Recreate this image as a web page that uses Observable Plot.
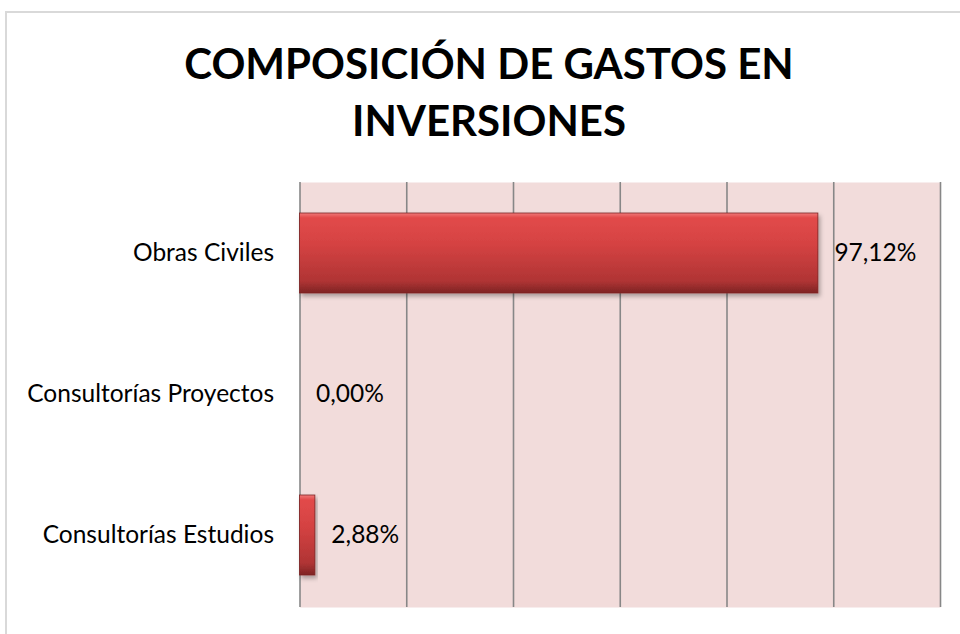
<!DOCTYPE html>
<html>
<head>
<meta charset="utf-8">
<script src="https://cdn.jsdelivr.net/npm/d3@7"></script>
<script src="https://cdn.jsdelivr.net/npm/@observablehq/plot@0.6"></script>
<style>
  html, body { margin: 0; padding: 0; background: #fff; overflow: hidden; }
  #wrap { position: relative; width: 960px; height: 634px; overflow: hidden; font-family: Lato, "Open Sans", sans-serif; }
  #frame { position: absolute; left: 5px; top: 11px; width: 1000px; height: 700px; border: 2px solid #d9d9d9; box-sizing: border-box; }
  #title { position: absolute; left: 9px; top: 35px; width: 960px; text-align: center; font-weight: 700; font-size: 42px; line-height: 57px; color: #000; white-space: nowrap; }
  #chart { position: absolute; left: 0; top: 0; }
</style>
</head>
<body>
<div id="wrap">
  <div id="frame"></div>
  <div id="chart"></div>
  <div id="title">COMPOSICIÓN DE GASTOS EN<br>INVERSIONES</div>
</div>
<script>
const categories = ["Obras Civiles", "Consultorías Proyectos", "Consultorías Estudios"];
const values = [0.9712, 0.0, 0.0288];
const gridTicks = [0, 0.2, 0.4, 0.6, 0.8, 1.0, 1.2];

const data = categories.map((c, i) => ({category: c, value: values[i]}));
const locale = d3.formatLocale({decimal: ",", thousands: ".", grouping: [3], currency: ["", "€"], percent: "%"});
const fmt = locale.format(".2%");

const chart = Plot.plot({
  width: 960,
  height: 634,
  marginLeft: 299.5,
  marginRight: 20,
  marginTop: 182,
  marginBottom: 27,
  style: {fontFamily: "Lato, 'Open Sans', sans-serif", fontSize: "24px", color: "#000", background: "transparent"},
  x: {domain: [0, 1.2], axis: null},
  y: {domain: categories, paddingInner: 0.43, paddingOuter: 0.215, label: null, tickSize: 0, tickPadding: 26},
  marks: [
    Plot.frame({fill: "#f2dcdb", stroke: null}),
    Plot.gridX(gridTicks, {stroke: "#878787", strokeOpacity: 1, strokeWidth: 1.6}),
    Plot.barX(data, {x: "value", y: "category", fill: "url(#barGrad)", stroke: "#7d2222", strokeWidth: 0.8}),
    Plot.text(data, {x: "value", y: "category", text: d => fmt(d.value), textAnchor: "start", dx: 16, fill: "#000", fontSize: 24.5}),
    Plot.axisY({tickSize: 0, tickPadding: 26, fontSize: 24.5, label: null})
  ]
});

const svg = d3.select(chart);
const defs = svg.insert("defs", ":first-child");
const g = defs.append("linearGradient").attr("id", "barGrad").attr("x1", 0).attr("y1", 0).attr("x2", 0).attr("y2", 1);
[["0%", "#f07a7a"], ["6%", "#e24a4a"], ["40%", "#d44242"], ["85%", "#b03434"], ["100%", "#7e2424"]]
  .forEach(([o, c]) => g.append("stop").attr("offset", o).attr("stop-color", c));
const f = defs.append("filter").attr("id", "shadow").attr("x", "-10%").attr("y", "-10%").attr("width", "130%").attr("height", "140%");
f.append("feDropShadow").attr("dx", 2).attr("dy", 3).attr("stdDeviation", 2).attr("flood-color", "#000").attr("flood-opacity", 0.3);
svg.selectAll("g[aria-label='bar'] rect").attr("filter", "url(#shadow)");

document.getElementById("chart").appendChild(chart);
</script>
</body>
</html>
